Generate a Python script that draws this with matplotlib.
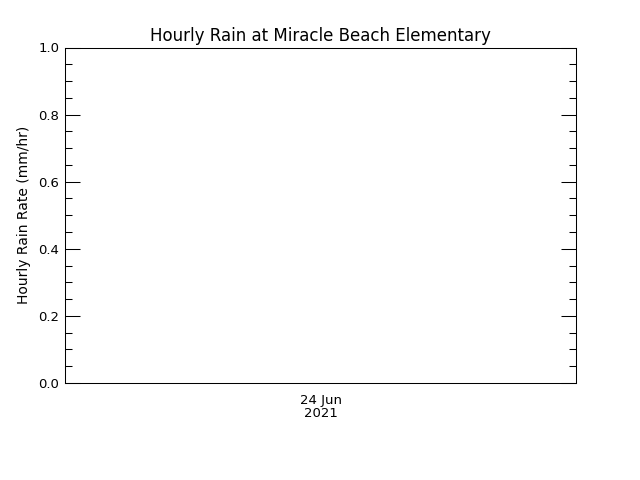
import matplotlib
matplotlib.use("Agg")
import matplotlib.pyplot as plt
import numpy as np
from datetime import datetime

# no rain records in this window, so the series is empty
times = []
rain_rate = []
x_start = datetime(2021, 6, 23, 12)
x_end = datetime(2021, 6, 24, 12)
date_ticks = [datetime(2021, 6, 24)]
date_labels = ["24 Jun\n2021"]
y_ticks = [0.0, 0.2, 0.4, 0.6, 0.8, 1.0]

fig = plt.figure(figsize=(6.4, 4.8), dpi=100)
ax = fig.add_axes([65 / 640, 1 - 383 / 480, 511 / 640, 335.5 / 480])

ax.plot(times, rain_rate, color="black")
ax.set_xlim(x_start, x_end)
ax.set_ylim(0, 1)

ax.set_xticks(date_ticks)
ax.set_xticklabels(date_labels, fontsize=9.5, linespacing=0.95)
ax.tick_params(axis="x", length=0, pad=8)

ax.set_yticks(y_ticks)
ax.set_yticklabels(["%.1f" % v for v in y_ticks], fontsize=9.5)
ax.set_yticks(np.arange(0, 1.0001, 0.05), minor=True)
ax.tick_params(axis="y", which="major", direction="in", length=10.5, width=0.75, right=True, pad=4)
ax.tick_params(axis="y", which="minor", direction="in", length=5, width=0.75, right=True)

for s in ax.spines.values():
    s.set_linewidth(0.75)

ax.set_ylabel("Hourly Rain Rate (mm/hr)", fontsize=10)
ax.yaxis.set_label_coords(-0.067, 0.5)
ax.set_title("Hourly Rain at Miracle Beach Elementary", fontsize=12, pad=5)

fig.savefig("out.png", dpi=100)
